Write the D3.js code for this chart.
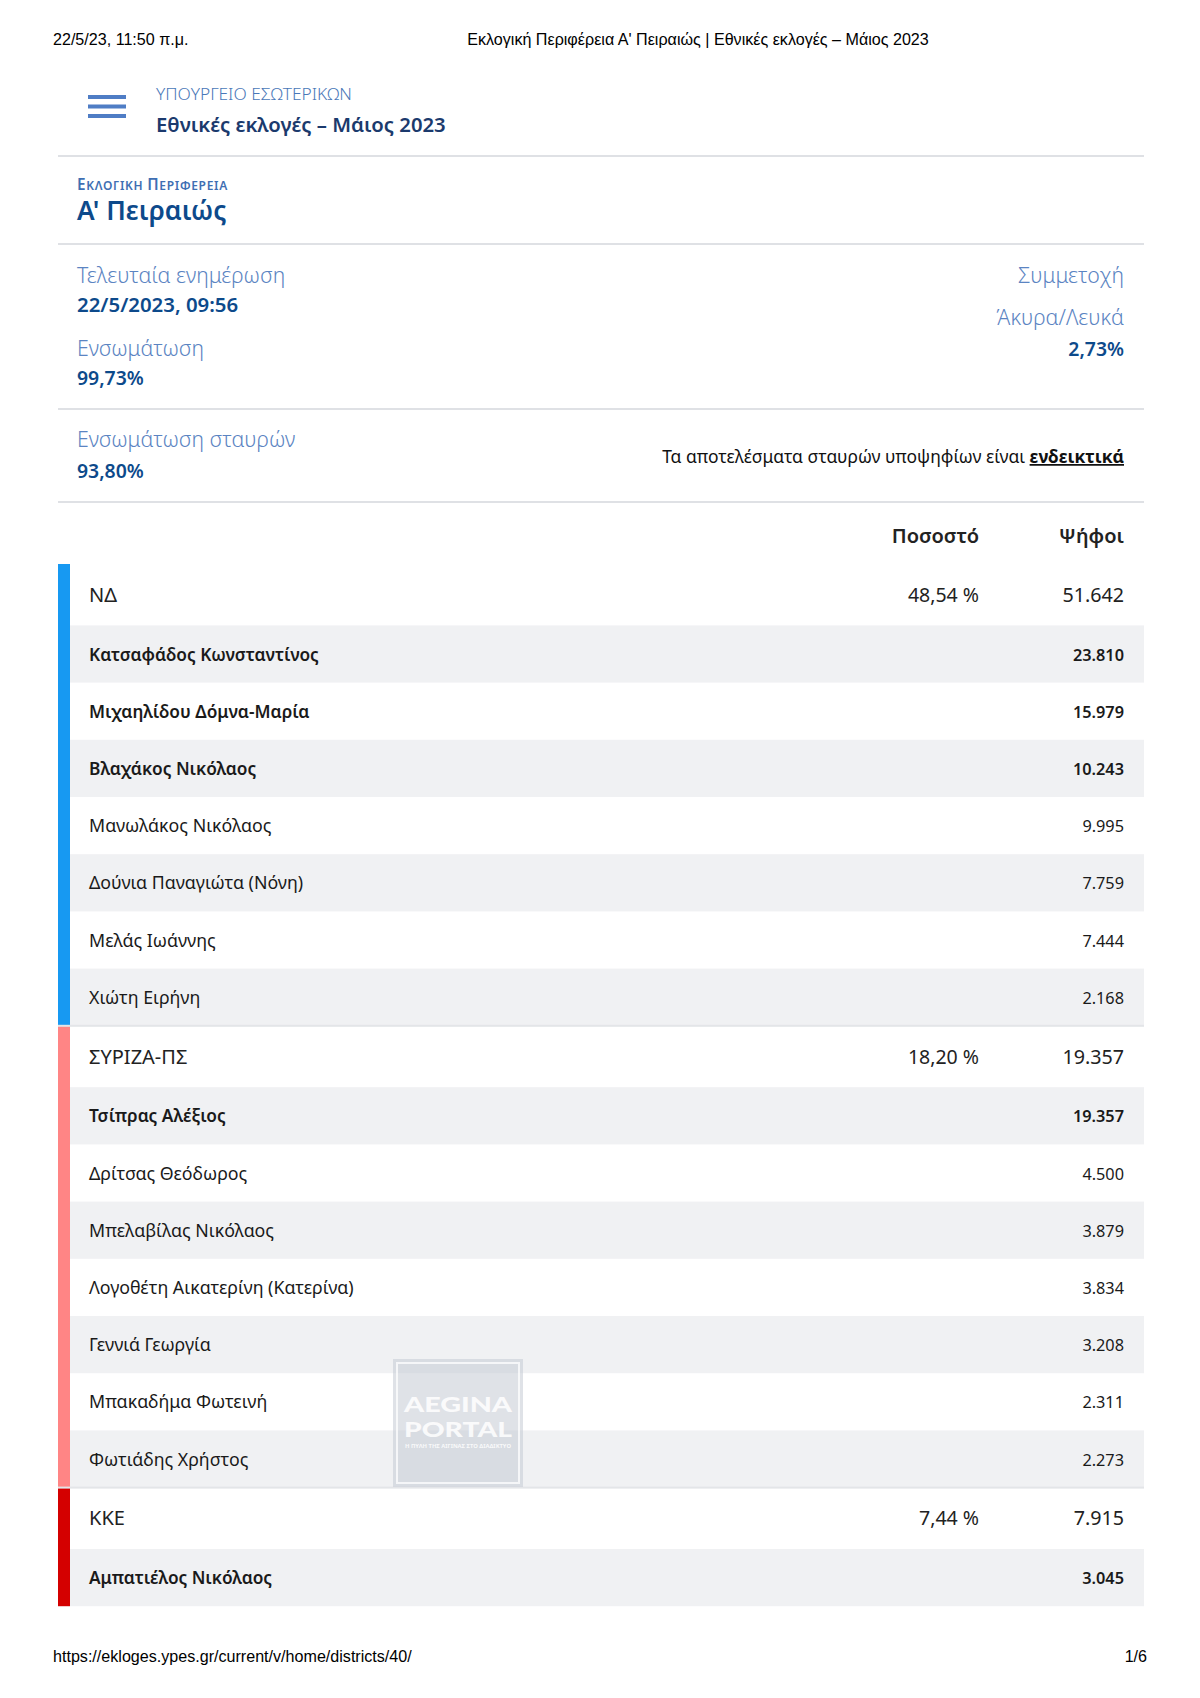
<!DOCTYPE html>
<html>
<head>
<meta charset="utf-8">
<script src="https://cdn.jsdelivr.net/npm/d3@7"></script>
<style>
  body { margin: 0; background: #fff; }
  svg text { font-family: "Noto Sans", "Open Sans", sans-serif; }
  svg text.print { font-family: "Liberation Sans", Arial, sans-serif; font-size: 16.1px; }
</style>
</head>
<body>
<svg id="page" width="1200" height="1698"></svg>
<script>
// results data
const parties      = ["ΝΔ", "ΣΥΡΙΖΑ-ΠΣ", "ΚΚΕ"];
const partyPct     = [48.54, 18.20, 7.44];
const partyVotes   = [51642, 19357, 7915];
const partyBold    = [3, 1, 1];          // top candidates shown in bold
const candNames = [
  ["Κατσαφάδος Κωνσταντίνος", "Μιχαηλίδου Δόμνα-Μαρία", "Βλαχάκος Νικόλαος",
   "Μανωλάκος Νικόλαος", "Δούνια Παναγιώτα (Νόνη)", "Μελάς Ιωάννης", "Χιώτη Ειρήνη"],
  ["Τσίπρας Αλέξιος", "Δρίτσας Θεόδωρος", "Μπελαβίλας Νικόλαος",
   "Λογοθέτη Αικατερίνη (Κατερίνα)", "Γεννιά Γεωργία", "Μπακαδήμα Φωτεινή", "Φωτιάδης Χρήστος"],
  ["Αμπατιέλος Νικόλαος"]
];
const candVotes = [
  [23810, 15979, 10243, 9995, 7759, 7444, 2168],
  [19357, 4500, 3879, 3834, 3208, 2311, 2273],
  [3045]
];
const lastUpdate   = "22/5/2023, 09:56";
const integration  = 99.73;
const crossInteg   = 93.80;
const invalidBlank = 2.73;

const partyColor = d3.scaleOrdinal().domain(parties).range(["#1799f2", "#ff8585", "#d40000"]);

const gr = d3.formatLocale({decimal: ",", thousands: ".", grouping: [3], currency: ["", "€"]});
const fmtVotes = gr.format(",d");
const fmtPct   = gr.format(".2f");

const svg = d3.select("#page");
svg.append("rect").attr("width", 1200).attr("height", 1698).attr("fill", "#fff");

// print header / footer
const pt = (x, y, t, anchor) => svg.append("text").attr("class", "print").attr("x", x).attr("y", y)
  .attr("text-anchor", anchor || "start").attr("fill", "#000").text(t);
pt(53, 45, "22/5/23, 11:50 π.μ.");
pt(698, 45, "Εκλογική Περιφέρεια Α' Πειραιώς | Εθνικές εκλογές – Μάιος 2023", "middle");
pt(53, 1662, "https://ekloges.ypes.gr/current/v/home/districts/40/");
pt(1147, 1662, "1/6", "end");

// top bar
const L = 58, R = 1144;
[95, 104.5, 114].forEach(y => {
  svg.append("rect").attr("x", 88).attr("y", y).attr("width", 38).attr("height", 4).attr("fill", "#4f7dc5");
});
svg.append("text").attr("x", 156).attr("y", 99.5).attr("fill", "#4a78b8")
  .style("font-size", "17.3px").style("font-weight", 300).text("ΥΠΟΥΡΓΕΙΟ ΕΣΩΤΕΡΙΚΩΝ");
svg.append("text").attr("x", 156).attr("y", 131.5).attr("fill", "#1b3a6d")
  .style("font-size", "20.3px").style("font-weight", 600).text("Εθνικές εκλογές – Μάιος 2023");

const sep = y => svg.append("rect").attr("x", L).attr("y", y - 1).attr("width", R - L).attr("height", 2).attr("fill", "#dfe1e5");
[156, 244, 409, 502].forEach(sep);

// district title
const sc = svg.append("text").attr("x", 77).attr("y", 190).attr("fill", "#3f6fb3")
  .style("font-weight", 600).style("letter-spacing", "0.7px");
sc.append("tspan").style("font-size", "15.3px").text("Ε");
sc.append("tspan").style("font-size", "12px").text("ΚΛΟΓΙΚΗ ");
sc.append("tspan").style("font-size", "15.3px").text("Π");
sc.append("tspan").style("font-size", "12px").text("ΕΡΙΦΕΡΕΙΑ");
svg.append("text").attr("x", 77).attr("y", 220).attr("fill", "#0d4a8b")
  .style("font-size", "26.3px").style("font-weight", 600).text("Α' Πειραιώς");

// info block
const lab = (x, y, t, anchor) => svg.append("text").attr("x", x).attr("y", y)
  .attr("text-anchor", anchor || "start").attr("fill", "#5b84c2")
  .style("font-size", "21.3px").style("font-weight", 300).text(t);
const val = (x, y, t, anchor, fs) => svg.append("text").attr("x", x).attr("y", y)
  .attr("text-anchor", anchor || "start").attr("fill", "#0d4a8b")
  .style("font-size", (fs || 19.4) + "px").style("font-weight", 600).text(t);

lab(77, 283, "Τελευταία ενημέρωση");
val(77, 312, lastUpdate, "start", 20.4);
lab(77, 356, "Ενσωμάτωση");
val(77, 385, fmtPct(integration) + "%");
lab(1124, 283, "Συμμετοχή", "end");
lab(1124, 325, "Άκυρα/Λευκά", "end");
val(1124, 356, fmtPct(invalidBlank) + "%", "end");
lab(77, 447, "Ενσωμάτωση σταυρών");
val(77, 478, fmtPct(crossInteg) + "%");

const note = svg.append("text").attr("x", 1124).attr("y", 463).attr("text-anchor", "end")
  .attr("fill", "#111").style("font-size", "17.45px");
note.append("tspan").text("Τα αποτελέσματα σταυρών υποψηφίων είναι ");
note.append("tspan").style("font-weight", 700).style("text-decoration", "underline").text("ενδεικτικά");

// table header
const xPct = 979, xVotes = 1124;
svg.append("text").attr("x", xPct).attr("y", 542.5).attr("text-anchor", "end").attr("fill", "#222")
  .style("font-size", "20px").style("font-weight", 600).text("Ποσοστό");
svg.append("text").attr("x", xVotes).attr("y", 542.5).attr("text-anchor", "end").attr("fill", "#222")
  .style("font-size", "20px").style("font-weight", 600).text("Ψήφοι");

// rows
const partyH = 61.4, candH = 57.2, top0 = 564;
const rows = [];
parties.forEach((p, pi) => {
  rows.push({type: "party", party: p, pi, name: p, pct: partyPct[pi], votes: partyVotes[pi]});
  candNames[pi].forEach((n, ci) => rows.push({
    type: "cand", party: p, pi, ci, name: n, votes: candVotes[pi][ci], bold: ci < partyBold[pi]
  }));
});
const heights = rows.map(r => r.type === "party" ? partyH : candH);
const tops = [top0, ...d3.cumsum(heights).map(v => top0 + v)];
rows.forEach((r, i) => { r.y0 = tops[i]; r.y1 = tops[i + 1]; });

const gRows = svg.append("g");
gRows.selectAll("rect.bg").data(rows.filter(r => r.type === "cand" && r.ci % 2 === 0)).join("rect")
  .attr("class", "bg").attr("x", L).attr("y", d => d.y0).attr("width", R - L).attr("height", d => d.y1 - d.y0)
  .attr("fill", "#f0f1f3");

// party colour bars
const groups = d3.groups(rows, d => d.party).map(([p, rs]) => ({party: p, y0: rs[0].y0, y1: rs[rs.length - 1].y1}));
gRows.selectAll("rect.bar").data(groups).join("rect")
  .attr("class", "bar").attr("x", L).attr("y", d => d.y0).attr("width", 12).attr("height", d => d.y1 - d.y0)
  .attr("fill", d => partyColor(d.party));
gRows.selectAll("rect.border").data(groups.slice(1)).join("rect")
  .attr("class", "border").attr("x", L).attr("y", d => d.y0 - 1).attr("width", R - L).attr("height", 2)
  .attr("fill", "#e3e5e8");

const partyRows = rows.filter(r => r.type === "party");
const candRows  = rows.filter(r => r.type === "cand");
const mid = d => (d.y0 + d.y1) / 2;

gRows.selectAll("text.pname").data(partyRows).join("text").attr("class", "pname")
  .attr("x", 89).attr("y", d => mid(d) + 7).attr("fill", "#222").style("font-size", "20px").text(d => d.name);
gRows.selectAll("text.ppct").data(partyRows).join("text").attr("class", "ppct")
  .attr("x", xPct).attr("y", d => mid(d) + 7).attr("text-anchor", "end").attr("fill", "#222")
  .style("font-size", "19.5px").text(d => fmtPct(d.pct) + " %");
gRows.selectAll("text.pvotes").data(partyRows).join("text").attr("class", "pvotes")
  .attr("x", xVotes).attr("y", d => mid(d) + 7).attr("text-anchor", "end").attr("fill", "#222")
  .style("font-size", "19.7px").text(d => fmtVotes(d.votes));

gRows.selectAll("text.cname").data(candRows).join("text").attr("class", "cname")
  .attr("x", 89).attr("y", d => mid(d) + 6.5).attr("fill", "#1a1a1a")
  .style("font-size", d => d.bold ? "17.3px" : "17.8px").style("font-weight", d => d.bold ? 600 : 400).text(d => d.name);
gRows.selectAll("text.cvotes").data(candRows).join("text").attr("class", "cvotes")
  .attr("x", xVotes).attr("y", d => mid(d) + 6.5).attr("text-anchor", "end").attr("fill", "#1a1a1a")
  .style("font-size", "16.3px").style("font-weight", d => d.bold ? 600 : 400).text(d => fmtVotes(d.votes));

// watermark
const wm = svg.append("g").attr("transform", "translate(393,1359)");
wm.append("rect").attr("width", 130).attr("height", 128).attr("fill", "#c5cad4").attr("opacity", 0.55);
wm.append("rect").attr("x", 4).attr("y", 4).attr("width", 122).attr("height", 120)
  .attr("fill", "none").attr("stroke", "#fff").attr("stroke-opacity", 0.75).attr("stroke-width", 2);
wm.append("text").attr("x", 65).attr("y", 53).attr("text-anchor", "middle").attr("fill", "#fff").attr("fill-opacity", 0.85)
  .style("font-family", "Lato, sans-serif").style("font-weight", 900).style("font-size", "20px")
  .attr("textLength", 108).attr("lengthAdjust", "spacingAndGlyphs").text("AEGINA");
wm.append("text").attr("x", 65).attr("y", 77.5).attr("text-anchor", "middle").attr("fill", "#fff").attr("fill-opacity", 0.85)
  .style("font-family", "Lato, sans-serif").style("font-weight", 900).style("font-size", "20px")
  .attr("textLength", 108).attr("lengthAdjust", "spacingAndGlyphs").text("PORTAL");
wm.append("text").attr("x", 65).attr("y", 89).attr("text-anchor", "middle").attr("fill", "#fff").attr("fill-opacity", 0.85)
  .style("font-weight", 700).style("font-size", "5.5px")
  .attr("textLength", 106).attr("lengthAdjust", "spacingAndGlyphs").text("Η ΠΥΛΗ ΤΗΣ ΑΙΓΙΝΑΣ ΣΤΟ ΔΙΑΔΙΚΤΥΟ");
</script>
</body>
</html>
